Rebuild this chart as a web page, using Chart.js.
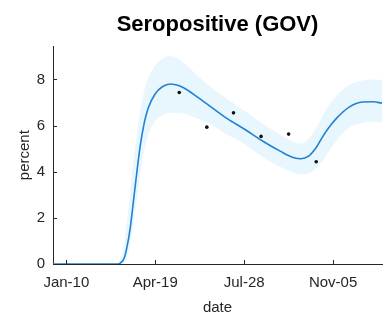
<!DOCTYPE html>
<html>
<head>
<meta charset="utf-8">
<script src="https://cdn.jsdelivr.net/npm/chart.js@4"></script>
<style>
  html, body { margin: 0; padding: 0; background: #fff; }
</style>
</head>
<body>
<canvas id="seroChart" width="386" height="317"></canvas>
<script>
// days counted from Jan-10
const tickDays = [0, 100, 200, 300];
const tickLabels = ["Jan-10", "Apr-19", "Jul-28", "Nov-05"];
const yTicks = [0, 2, 4, 6, 8];

// fitted curve and its band
const curveDays = [-15, 58, 62, 65, 68, 72, 76, 80, 83, 87, 92, 100, 108, 117, 127, 137, 148, 163, 181, 200, 222, 241, 255, 264, 272, 281, 288, 294, 304, 318, 333, 345, 355];
const curveMid  = [0, 0, 0.08, 0.25, 0.7, 1.6, 2.9, 4.2, 5.1, 6.0, 6.75, 7.38, 7.68, 7.8, 7.72, 7.52, 7.22, 6.8, 6.3, 5.85, 5.3, 4.88, 4.62, 4.56, 4.66, 5.05, 5.5, 5.85, 6.32, 6.8, 7.02, 7.03, 6.97];
const curveHigh = [0, 0.03, 0.3, 0.8, 1.8, 3.2, 4.6, 5.8, 6.6, 7.4, 8.05, 8.6, 8.9, 9.0, 8.85, 8.55, 8.15, 7.65, 7.15, 6.65, 6.05, 5.6, 5.3, 5.22, 5.4, 5.9, 6.4, 6.8, 7.3, 7.75, 7.95, 8.0, 7.98];
const curveLow  = [0, 0, 0.02, 0.08, 0.3, 0.9, 1.9, 3.0, 3.9, 4.8, 5.6, 6.2, 6.45, 6.55, 6.55, 6.45, 6.3, 6.05, 5.6, 5.2, 4.6, 4.2, 3.95, 3.88, 3.92, 4.15, 4.45, 4.8, 5.35, 5.9, 6.12, 6.15, 6.12];

// survey measurements
const surveyDays = [127, 158, 188, 219, 250, 281];
const surveyValues = [7.43, 5.93, 6.55, 5.53, 5.63, 4.43];

const toPoints = (xs, ys) => xs.map((x, i) => ({ x: x, y: ys[i] }));

const fontFamily = "'Liberation Sans', Arial, sans-serif";
const inkColor = "#262626";

const innerTicks = {
  id: "inner_ticks",
  afterDraw: (chart) => {
    const { ctx, chartArea } = chart;
    const xs = chart.scales.x;
    const ys = chart.scales.y;
    ctx.save();
    ctx.strokeStyle = inkColor;
    ctx.lineWidth = 1;
    ctx.beginPath();
    tickDays.forEach((d) => {
      const px = Math.round(xs.getPixelForValue(d)) + 0.5;
      ctx.moveTo(px, chartArea.bottom);
      ctx.lineTo(px, chartArea.bottom - 4);
    });
    yTicks.forEach((v) => {
      const py = Math.round(ys.getPixelForValue(v)) + 0.5;
      ctx.moveTo(chartArea.left, py);
      ctx.lineTo(chartArea.left + 4, py);
    });
    ctx.stroke();
    ctx.restore();
  },
};

const seroCanvas = document.getElementById("seroChart");
const seroChart = new Chart(seroCanvas, {
  type: "line",
  data: {
    datasets: [
      {
        type: "scatter",
        label: "survey",
        data: toPoints(surveyDays, surveyValues),
        pointRadius: 1.8,
        pointBackgroundColor: "#111",
        pointBorderWidth: 0,
        showLine: false,
      },
      {
        label: "fit",
        data: toPoints(curveDays, curveMid),
        borderColor: "#2182d4",
        borderWidth: 1.6,
        pointRadius: 0,
        cubicInterpolationMode: "monotone",
        fill: false,
      },
      {
        label: "high",
        data: toPoints(curveDays, curveHigh),
        borderWidth: 0,
        borderColor: "rgba(0,0,0,0)",
        pointRadius: 0,
        cubicInterpolationMode: "monotone",
        backgroundColor: "#e8f6fd",
        fill: "+1",
      },
      {
        label: "low",
        data: toPoints(curveDays, curveLow),
        borderWidth: 0,
        borderColor: "rgba(0,0,0,0)",
        pointRadius: 0,
        cubicInterpolationMode: "monotone",
        fill: false,
      },
    ],
  },
  options: {
    responsive: false,
    animation: false,
    layout: { padding: 0 },
    plugins: {
      legend: { display: false },
      tooltip: { enabled: false },
      title: {
        display: true,
        fullSize: false,
        text: "Seropositive (GOV)",
        color: "#000",
        font: { family: fontFamily, size: 22, weight: "bold" },
        padding: { top: 12, bottom: 8 },
      },
    },
    scales: {
      x: {
        type: "linear",
        min: -15,
        max: 355,
        afterBuildTicks: (scale) => {
          scale.ticks = tickDays.map((v) => ({ value: v }));
        },
        afterFit: (scale) => {
          scale.height = 53;
        },
        ticks: {
          color: inkColor,
          padding: 10,
          maxRotation: 0,
          font: { family: fontFamily, size: 15 },
          callback: (value) => tickLabels[tickDays.indexOf(value)],
        },
        grid: { display: true, drawOnChartArea: false, drawTicks: false },
        border: { color: inkColor, width: 1 },
        title: {
          display: true,
          text: "date",
          color: inkColor,
          font: { family: fontFamily, size: 15 },
          padding: { top: 0, bottom: 0 },
        },
      },
      y: {
        min: 0,
        max: 9.43,
        afterBuildTicks: (scale) => {
          scale.ticks = yTicks.map((v) => ({ value: v }));
        },
        afterFit: (scale) => {
          scale.width = 53;
        },
        ticks: {
          color: inkColor,
          padding: 8,
          font: { family: fontFamily, size: 15 },
        },
        grid: { display: true, drawOnChartArea: false, drawTicks: false },
        border: { color: inkColor, width: 1 },
        title: {
          display: true,
          text: "percent",
          color: inkColor,
          font: { family: fontFamily, size: 15 },
          padding: { top: 16, bottom: 0 },
        },
      },
    },
  },
  plugins: [innerTicks],
});
</script>
</body>
</html>
